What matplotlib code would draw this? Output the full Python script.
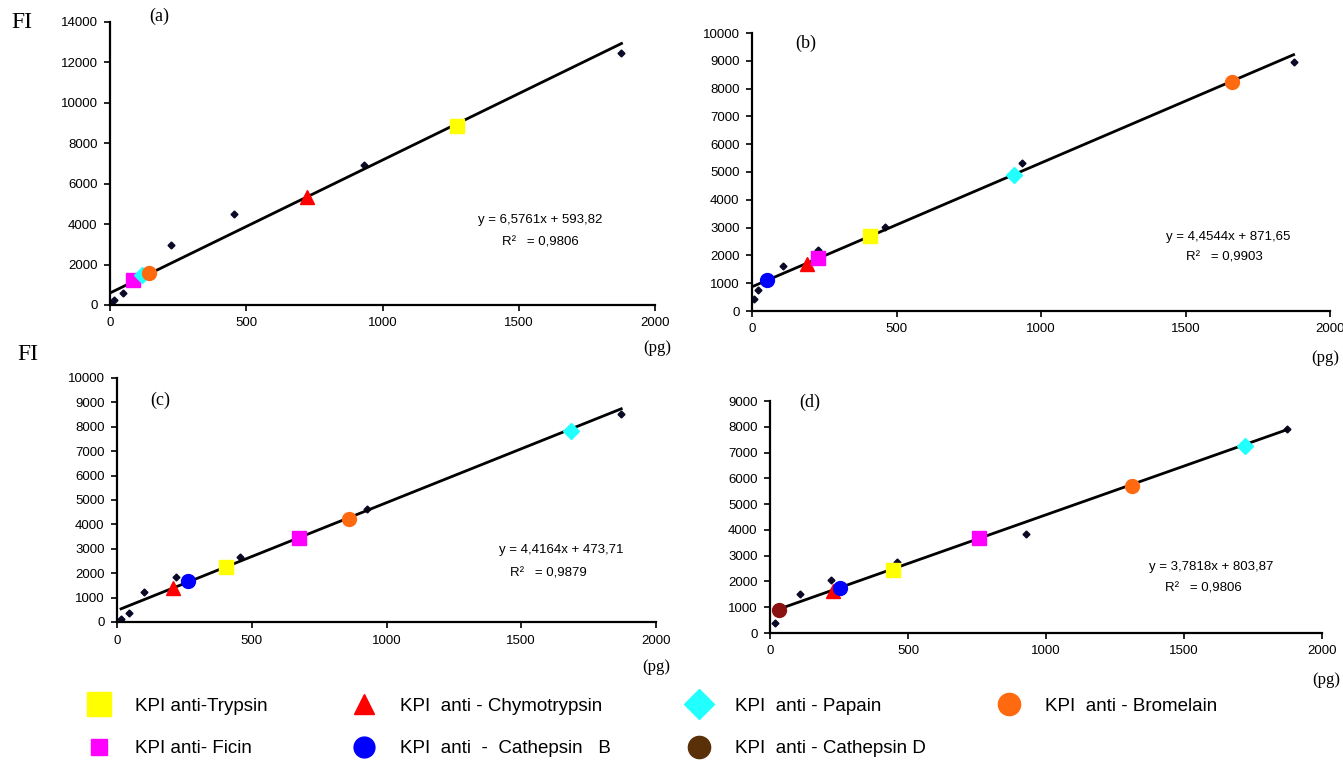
import numpy as np
import matplotlib.pyplot as plt
from matplotlib.lines import Line2D

plt.rcParams['font.family'] = ['Liberation Sans', 'DejaVu Sans']

# standard curve points (black diamonds)
std_x_a = [0, 16, 46, 223, 456, 932, 1877]
std_y_a = [80, 250, 600, 2950, 4500, 6950, 12470]
std_x_b = [7, 22, 107, 228, 461, 934, 1874]
std_y_b = [420, 760, 1610, 2190, 3010, 5330, 8940]
std_x_c = [15, 45, 100, 218, 455, 927, 1871]
std_y_c = [135, 350, 1230, 1860, 2680, 4650, 8510]
std_x_d = [18, 109, 222, 460, 929, 1873]
std_y_d = [400, 1500, 2055, 2740, 3830, 7930]

# KPI samples per panel
kpi_a = ['Ficin', 'Papain', 'Bromelain', 'Chymotrypsin', 'Trypsin']
kpi_x_a = [86, 116, 143, 723, 1272]
kpi_y_a = [1230, 1470, 1590, 5320, 8840]
kpi_b = ['Cathepsin B', 'Chymotrypsin', 'Ficin', 'Trypsin', 'Papain', 'Bromelain']
kpi_x_b = [52, 190, 230, 409, 907, 1662]
kpi_y_b = [1110, 1690, 1900, 2690, 4880, 8220]
kpi_c = ['Chymotrypsin', 'Cathepsin B', 'Trypsin', 'Ficin', 'Bromelain', 'Papain']
kpi_x_c = [208, 265, 403, 674, 861, 1684]
kpi_y_c = [1400, 1690, 2250, 3460, 4240, 7830]
kpi_d = ['Cathepsin D', 'Chymotrypsin', 'Cathepsin B', 'Trypsin', 'Ficin', 'Bromelain', 'Papain']
kpi_x_d = [34, 227, 253, 444, 757, 1310, 1721]
kpi_y_d = [900, 1640, 1730, 2460, 3670, 5720, 7270]

# regression lines
slopes = [6.5761, 4.4544, 4.4164, 3.7818]
intercepts = [593.82, 871.65, 473.71, 803.87]
r2 = ['0,9806', '0,9903', '0,9879', '0,9806']
eq_text = ['y = 6,5761x + 593,82', 'y = 4,4544x + 871,65',
           'y = 4,4164x + 473,71', 'y = 3,7818x + 803,87']
ymax = [14000, 10000, 10000, 9000]
ystep = [2000, 1000, 1000, 1000]
panel_names = ['(a)', '(b)', '(c)', '(d)']

style = {
    'Trypsin': ('s', '#ffff00', 10),
    'Chymotrypsin': ('^', '#ff0000', 10),
    'Papain': ('D', '#22ffff', 8),
    'Bromelain': ('o', '#ff6a10', 10),
    'Ficin': ('s', '#ff00ff', 10),
    'Cathepsin B': ('o', '#0000ff', 10),
    'Cathepsin D': ('o', '#8b1212', 10),
}

fig = plt.figure(figsize=(13.43, 7.61), dpi=100)
W, H = 1343, 761
boxes = [(110, 655, 22, 305), (752, 1330, 33, 311), (117, 656, 378, 622), (770, 1322, 401, 633)]
std = [(std_x_a, std_y_a), (std_x_b, std_y_b), (std_x_c, std_y_c), (std_x_d, std_y_d)]
kpis = [(kpi_a, kpi_x_a, kpi_y_a), (kpi_b, kpi_x_b, kpi_y_b),
        (kpi_c, kpi_x_c, kpi_y_c), (kpi_d, kpi_x_d, kpi_y_d)]
eq_pos = [(0.79, 0.30, 0.79, 0.22), (0.823, 0.266, 0.818, 0.194),
          (0.824, 0.295, 0.80, 0.20), (0.80, 0.284, 0.785, 0.19)]
lab_pos = [(0.09, 1.02), (0.093, 0.964), (0.08, 0.91), (0.072, 0.996)]
pg_pos = [(657, 348), (1325, 358), (656, 667), (1326, 680)]

for i in range(4):
    l, r, t, b = boxes[i]
    ax = fig.add_axes([l / W, 1 - b / H, (r - l) / W, (b - t) / H])
    sx, sy = std[i]
    ax.plot(sx, sy, 'D', color='#0a0a28', ms=3.5, zorder=2)
    xx = np.array([sx[0], sx[-1]])
    ax.plot(xx, slopes[i] * xx + intercepts[i], color='black', lw=2, zorder=3)
    names, kx, ky = kpis[i]
    for n, x, y in zip(names, kx, ky):
        m, c, s = style[n]
        ax.plot(x, y, m, color=c, ms=s, mec=c, zorder=4)
    ax.set_xlim(0, 2000)
    ax.set_ylim(0, ymax[i])
    ax.set_xticks([0, 500, 1000, 1500, 2000])
    ax.set_yticks(np.arange(0, ymax[i] + 1, ystep[i]))
    for sp in ['top', 'right']:
        ax.spines[sp].set_visible(False)
    for sp in ['left', 'bottom']:
        ax.spines[sp].set_linewidth(1.6)
    ax.tick_params(labelsize=9.5, width=1.2, length=4, pad=5)
    ax.set_facecolor('none')
    ex, ey, rx, ry = eq_pos[i]
    ax.text(ex, ey, eq_text[i], transform=ax.transAxes, ha='center', va='center', fontsize=9.5)
    ax.text(rx, ry, 'R²   = ' + r2[i], transform=ax.transAxes, ha='center', va='center', fontsize=9.5)
    px, py = lab_pos[i]
    ax.text(px, py, panel_names[i], transform=ax.transAxes, ha='center', va='center',
            fontsize=13, family='Liberation Serif')
    fig.text(pg_pos[i][0] / W, 1 - pg_pos[i][1] / H, '(pg)', ha='center', va='center',
             fontsize=12, family='Liberation Serif')

fig.text(22 / W, 1 - 22 / H, 'FI', ha='center', va='center', fontsize=17, family='Liberation Serif')
fig.text(28 / W, 1 - 355 / H, 'FI', ha='center', va='center', fontsize=17, family='Liberation Serif')

# legend, four columns
legend_cols = [['Trypsin', 'Ficin'], ['Chymotrypsin', 'Cathepsin B'], ['Papain', 'Cathepsin D'], ['Bromelain']]
legend_labels = {
    'Trypsin': 'KPI anti-Trypsin',
    'Ficin': 'KPI anti- Ficin',
    'Chymotrypsin': 'KPI  anti - Chymotrypsin',
    'Cathepsin B': 'KPI  anti  -  Cathepsin   B',
    'Papain': 'KPI  anti - Papain',
    'Cathepsin D': 'KPI  anti - Cathepsin D',
    'Bromelain': 'KPI  anti - Bromelain',
}
legend_colors = {'Cathepsin D': '#5a3008'}
legend_sizes = {'Trypsin': 17, 'Ficin': 11, 'Chymotrypsin': 14, 'Cathepsin B': 15,
                'Papain': 15, 'Cathepsin D': 16, 'Bromelain': 16}
col_x = [73, 338, 673, 983]
for cx, col in zip(col_x, legend_cols):
    handles = []
    for n in col:
        m, c, s = style[n]
        c = legend_colors.get(n, c)
        handles.append(Line2D([], [], marker=m, color=c, mec=c, ls='none', ms=legend_sizes[n]))
    fig.legend(handles, [legend_labels[n] for n in col], loc='upper left',
               bbox_to_anchor=(cx / W, 1 - 690 / H), frameon=False, fontsize=13.5,
               labelspacing=1.35, handletextpad=0.9, borderaxespad=0)

fig.savefig('out.png', dpi=100)
